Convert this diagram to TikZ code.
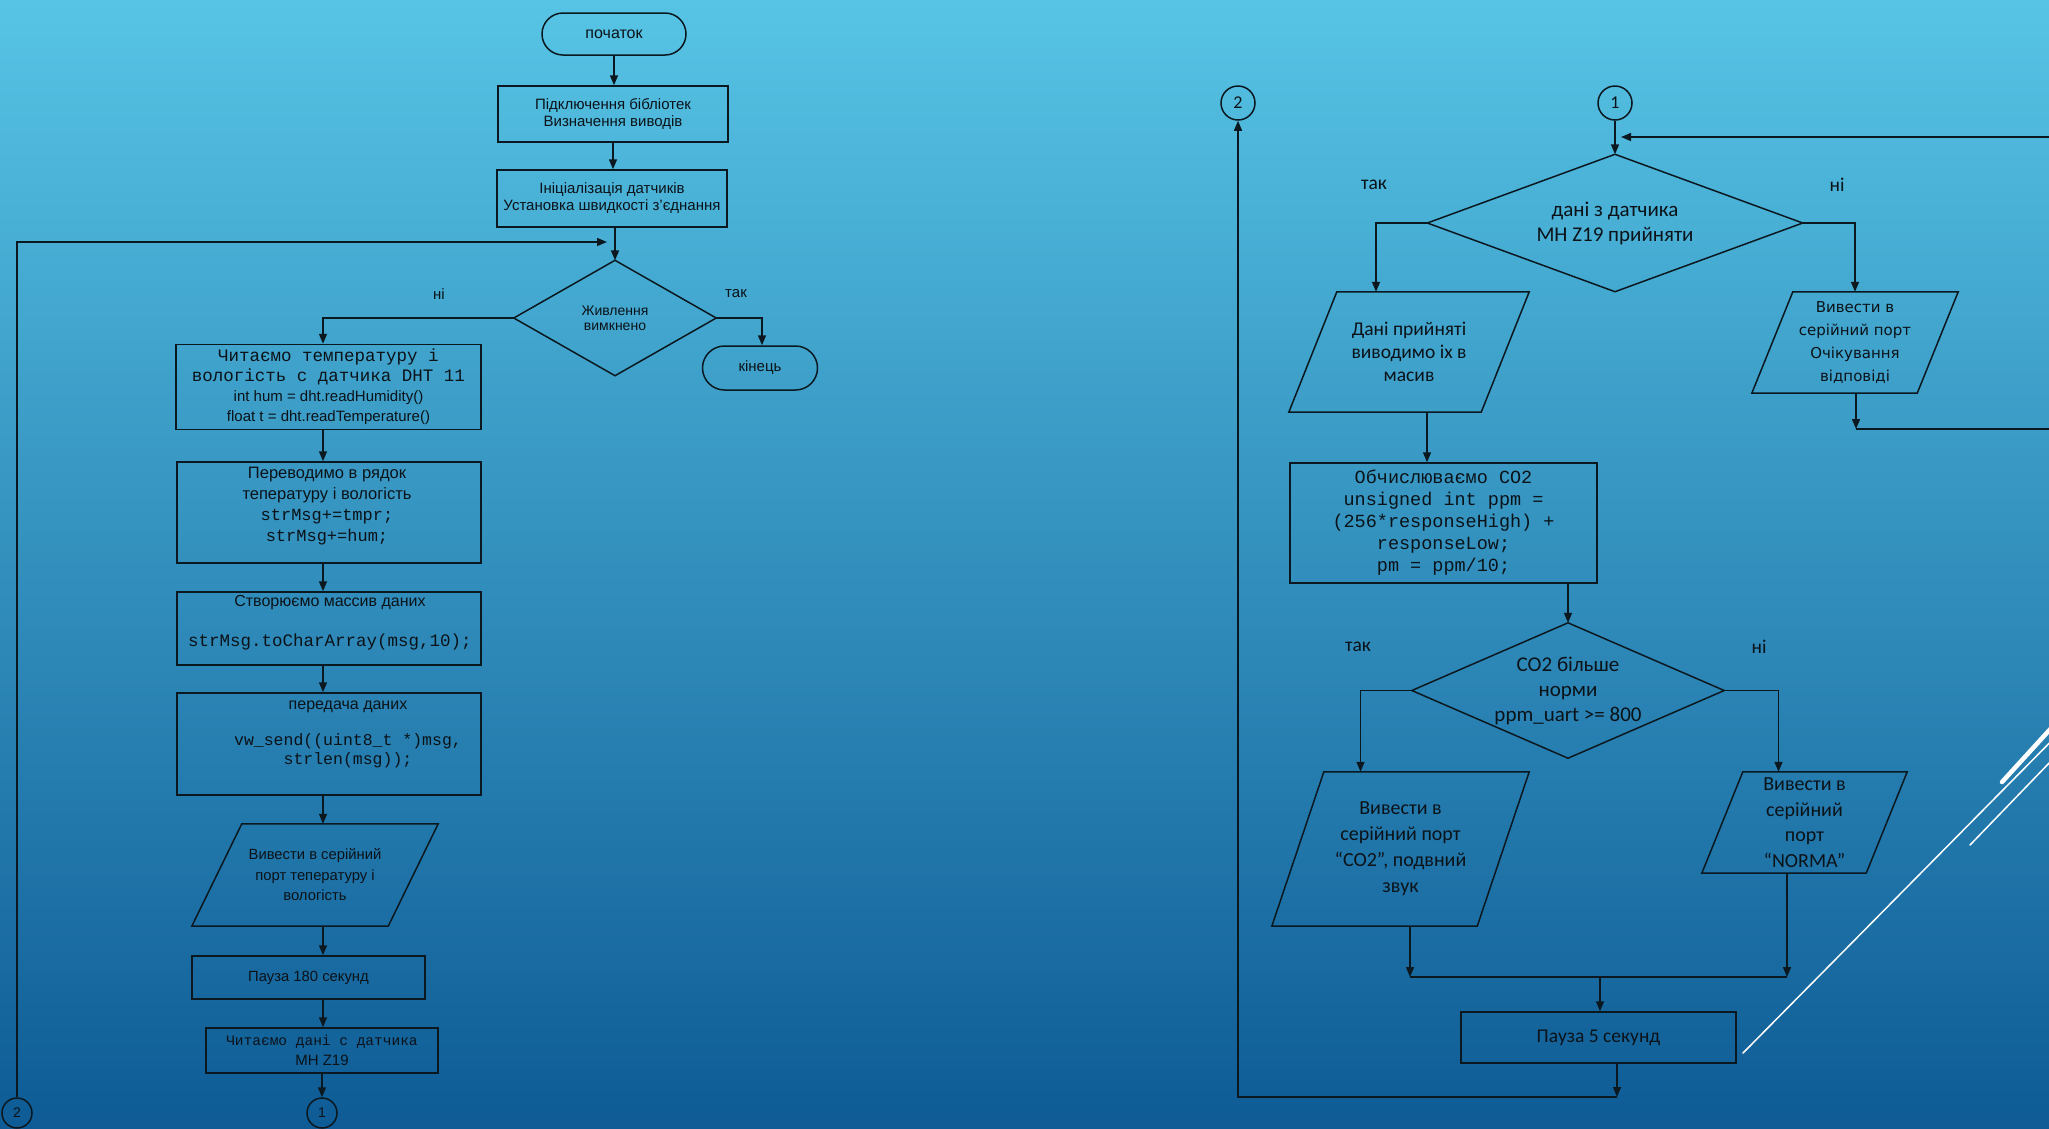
\documentclass[tikz,border=0pt]{standalone}
\usepackage{fontspec}
\setmainfont{Liberation Sans}
\newfontfamily\carl{Carlito}
\newfontfamily\monoft{Liberation Mono}
\newfontfamily\dejav{DejaVu Sans}
\usetikzlibrary{arrows.meta,calc}
\definecolor{bgtop}{HTML}{57C4E5}
\definecolor{bgmid}{HTML}{3594C4}
\definecolor{bgbot}{HTML}{0E5B95}
\definecolor{linec}{HTML}{0B1820}
\definecolor{txtc}{HTML}{0B1218}
\begin{document}
\begin{tikzpicture}[x=1pt,y=-1pt,
  ln/.style={draw=linec, line width=1.5pt},
  box/.style={ln, rectangle, inner sep=0pt, align=center, text=txtc},
  term/.style={box, rounded corners=21pt},
  shp/.style={rectangle, inner sep=0pt, align=center, text=txtc},
  arr/.style={draw=linec, line width=1.5pt, -{Triangle[length=10pt,width=8pt]}},
  con/.style={draw=linec, line width=1.5pt},
  cnct/.style={ln, circle, inner sep=0pt, text=txtc},
  fL/.style={font=\fontsize{15}{17}\selectfont},
  fR/.style={font=\carl\fontsize{19.5}{24}\selectfont},
  lab/.style={text=txtc, inner sep=0pt},
  deco/.style={draw=white, line cap=round}
]
\useasboundingbox (0,0) rectangle (2049,1128);
\clip (0,0) rectangle (2049,1128);
\shade[top color=bgtop, middle color=bgmid, bottom color=bgbot] (0,0) rectangle (2049,1128);

% decorative lines
\draw[deco, line width=4.5pt] (2002,782) -- (2075,702);
\draw[deco, line width=1.5pt] (1743,1053) -- (2080,712);
\draw[deco, line width=1.5pt] (1970,845) -- (2080,731);

% ---------------- left flowchart ----------------
\coordinate (colL) at (323,0);
\node[term, minimum width=144pt, minimum height=42pt, font=\fontsize{16}{18}\selectfont] (start) at (614,34) {початок};
\node[box, minimum width=230pt, minimum height=56pt, fL] (b1) at (613,114) {Підключення бібліотек\\Визначення виводів};
\node[box, minimum width=230pt, minimum height=57pt, fL] (b2) at (612,198.5) {Ініціалізація датчиків\\Установка швидкості з’єднання};
\node[shp, minimum width=202pt, minimum height=115pt, font=\fontsize{14}{15.5}\selectfont] (d1) at (615,318) {Живлення\\вимкнено};
\draw[ln] (d1.north) -- (d1.east) -- (d1.south) -- (d1.west) -- cycle;
\node[term, rounded corners=22pt, minimum width=115pt, minimum height=44pt, font=\fontsize{15}{17}\selectfont] (end) at (760,368) {кінець};
\node[lab, fL] (noL) at (439,294) {ні};
\node[lab, fL] (yesL) at (736,294) {так};

\node[box, minimum width=305pt, minimum height=85pt, font=\fontsize{15}{20}\selectfont] (b3) at (328.5,387)
 {{\monoft\fontsize{17.5}{20}\selectfont Читаємо температуру і}\\{\monoft\fontsize{17.5}{20}\selectfont вологість с датчика DHT 11}\\int hum = dht.readHumidity()\\float t = dht.readTemperature()};

\node[box, minimum width=304pt, minimum height=101pt] (b4) at (329,512.5) {};
\node[lab, align=center, font=\fontsize{16.5}{21}\selectfont] (b4t) at (327,506)
 {Переводимо в рядок\\тепературу і вологість\\{\monoft\fontsize{17}{21}\selectfont strMsg+=tmpr;}\\{\monoft\fontsize{17}{21}\selectfont strMsg+=hum;}};

\node[box, minimum width=304pt, minimum height=73pt] (b5) at (329,628.5) {};
\node[lab, align=center, font=\fontsize{16}{20}\selectfont] (b5t) at (330,623)
 {Створюємо массив даних\\[20pt]{\monoft\fontsize{17.5}{20}\selectfont strMsg.toCharArray(msg,10);}};

\node[box, minimum width=304pt, minimum height=102pt] (b6) at (329,744) {};
\node[lab, align=center, font=\fontsize{16}{19}\selectfont] (b6t) at (348,734)
 {передача даних\\[17pt]{\monoft\fontsize{16.5}{19}\selectfont vw\_send((uint8\_t *)msg,}\\{\monoft\fontsize{16.5}{19}\selectfont strlen(msg));}};

\node[shp, minimum width=246pt, minimum height=102pt, font=\fontsize{14.8}{20.5}\selectfont] (p1) at (315,875) {Вивести в серійний\\порт тепературу і\\вологість};
\draw[ln] ($(p1.north west)+(50,0)$) -- (p1.north east) -- ($(p1.south east)+(-50,0)$) -- (p1.south west) -- cycle;

\node[box, minimum width=233pt, minimum height=43pt, font=\fontsize{14.8}{17}\selectfont] (b7) at (308.5,977.5) {Пауза 180 секунд};
\node[box, minimum width=232pt, minimum height=45pt, font=\fontsize{15}{20}\selectfont] (b8) at (322,1050.5)
 {{\monoft\fontsize{14.5}{20}\selectfont Читаємо дані с датчика}\\MH Z19};

\node[cnct, minimum size=30pt, font=\fontsize{14}{16}\selectfont] (c1L) at (322,1113) {1};
\node[cnct, minimum size=30pt, font=\fontsize{14}{16}\selectfont] (c2L) at (17,1113) {2};

% left connectors
\draw[arr] (start.south) -- (start.south |- b1.north);
\draw[arr] (b1.south) -- (b1.south |- b2.north);
\draw[arr] (d1.north |- b2.south) -- (d1.north);
\coordinate (inL) at (607,242);
\draw[arr] (c2L.north) |- (inL);
\draw[arr] (d1.west) -| (colL |- b3.north);
\draw[arr] (d1.east) -| ([xshift=2pt]end.north);
\draw[arr] (colL |- b3.south) -- (colL |- b4.north);
\draw[arr] (colL |- b4.south) -- (colL |- b5.north);
\draw[arr] (colL |- b5.south) -- (colL |- b6.north);
\draw[arr] (colL |- b6.south) -- (colL |- p1.north);
\draw[arr] (colL |- p1.south) -- (colL |- b7.north);
\draw[arr] (colL |- b7.south) -- (colL |- b8.north);
\draw[arr] (c1L.north |- b8.south) -- (c1L.north);

% ---------------- right flowchart ----------------
\node[cnct, minimum size=34pt, font=\carl\fontsize{18}{20}\selectfont] (c2R) at (1238,103) {2};
\node[cnct, minimum size=34pt, font=\carl\fontsize{18}{20}\selectfont] (c1R) at (1615,103) {1};

\node[shp, minimum width=375pt, minimum height=137pt, font=\carl\fontsize{21}{25}\selectfont] (d2) at (1615,223) {дані з датчика\\MH Z19 прийняти};
\draw[ln] (d2.north) -- (d2.east) -- (d2.south) -- (d2.west) -- cycle;
\node[lab, fR] (yes2) at (1374,185) {так};
\node[lab, fR] (no2) at (1837,185) {ні};

\node[shp, minimum width=240pt, minimum height=120pt, font=\carl\fontsize{19.5}{23}\selectfont] (pA) at (1409,352) {Дані прийняті\\виводимо іх в\\масив};
\draw[ln] ($(pA.north west)+(48,0)$) -- (pA.north east) -- ($(pA.south east)+(-48,0)$) -- (pA.south west) -- cycle;

\node[shp, minimum width=206pt, minimum height=101pt, font=\dejav\fontsize{15}{23}\selectfont] (pD) at (1855,342.5) {Вивести  в\\серійний порт\\Очікування\\відповіді};
\draw[ln] ($(pD.north west)+(41,0)$) -- (pD.north east) -- ($(pD.south east)+(-41,0)$) -- (pD.south west) -- cycle;

\node[box, minimum width=307pt, minimum height=120pt, font=\monoft\fontsize{18.5}{22}\selectfont] (bCO2) at (1443.5,523)
 {Обчислюваємо CO2\\unsigned int ppm =\\(256*responseHigh) +\\responseLow;\\pm = ppm/10;};

\node[shp, minimum width=312pt, minimum height=135pt, font=\carl\fontsize{21}{25}\selectfont] (d3) at (1568,690.5) {CO2 більше\\норми\\ppm\_uart >= 800};
\draw[ln] (d3.north) -- (d3.east) -- (d3.south) -- (d3.west) -- cycle;
\node[lab, fR] (yes3) at (1358,647) {так};
\node[lab, fR] (no3) at (1759,647) {ні};

\node[shp, minimum width=257pt, minimum height=154pt, font=\carl\fontsize{20}{26}\selectfont] (pB) at (1400.5,849) {Вивести в\\серійний порт\\“CO2”, подвний\\звук};
\draw[ln] ($(pB.north west)+(52,0)$) -- (pB.north east) -- ($(pB.south east)+(-52,0)$) -- (pB.south west) -- cycle;

\node[shp, minimum width=205pt, minimum height=101pt, font=\carl\fontsize{20}{25.5}\selectfont] (pC) at (1804.5,822.5) {Вивести в\\серійний\\порт\\“NORMA”};
\draw[ln] ($(pC.north west)+(41,0)$) -- (pC.north east) -- ($(pC.south east)+(-41,0)$) -- (pC.south west) -- cycle;

\node[box, minimum width=275pt, minimum height=51pt, fR] (p5) at (1598.5,1037.5) {Пауза 5 секунд};

% right connectors
\draw[arr] (c1R.south) -- (d2.north);
\coordinate (edgeT) at (2049,137);
\coordinate (inR) at (1621,137);
\draw[arr] (edgeT) -- (inR);
\draw[arr] (d2.west) -| ([xshift=-33pt]pA.north);
\draw[arr] (d2.east) -| (pD.north);
\coordinate (dOut) at (1856,429);
\coordinate (edgeB) at (2049,429);
\draw[arr] (pD.south -| dOut) -- (dOut);
\draw[con] (dOut) -- (edgeB);
\draw[arr] ([xshift=18pt]pA.south) -- ([xshift=18pt]pA.south |- bCO2.north);
\draw[arr] (d3.north |- bCO2.south) -- (d3.north);
\draw[arr] (d3.west) -| ([xshift=-40pt]pB.north);
\draw[arr] (d3.east) -| ([xshift=-26pt]pC.north);
\coordinate (mL) at (1410,977);
\coordinate (mR) at (1787,977);
\coordinate (mM) at (1600,977);
\draw[arr] (pB.south -| mL) -- (mL);
\draw[arr] (pC.south -| mR) -- (mR);
\draw[con] (mL) -- (mR);
\draw[arr] (mM) -- (mM |- p5.north);
\coordinate (bot) at (1617,1097);
\draw[arr] (p5.south -| bot) -- (bot);
\draw[arr] (bot) -| (c2R.south);
\end{tikzpicture}
\end{document}
